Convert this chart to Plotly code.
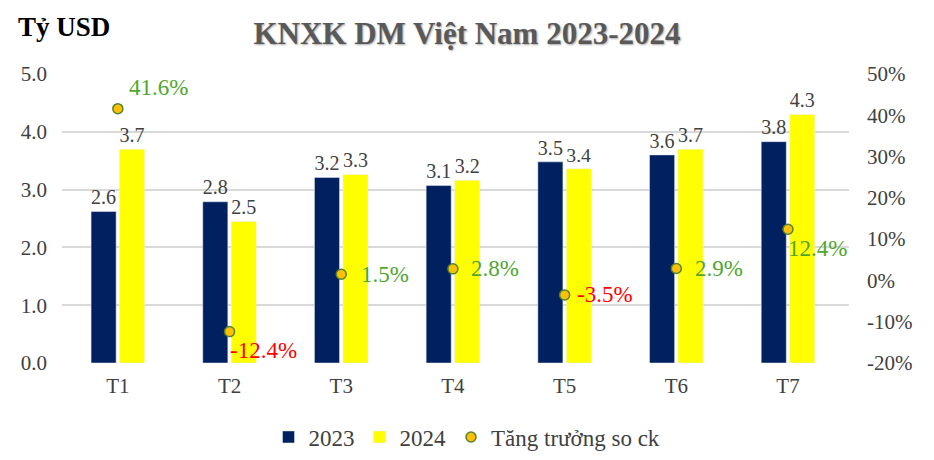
import plotly.graph_objects as go

months = ["T1", "T2", "T3", "T4", "T5", "T6", "T7"]
val_2023 = [2.62, 2.79, 3.21, 3.07, 3.48, 3.60, 3.83]
val_2024 = [3.70, 2.45, 3.26, 3.16, 3.36, 3.70, 4.30]
growth = [41.6, -12.4, 1.5, 2.8, -3.5, 2.9, 12.4]
y2_tickvals = [-20, -10, 0, 10, 20, 30, 40, 50]
y2_ticktext = ["-20%", "-10%", "0%", "10%", "20%", "30%", "40%", "50%"]

# label offsets (pixels) for the growth labels, relative to each marker
lbl_dx = [9, -2, 18, 16, 10, 17, -2]
lbl_dy = [21, -19, 0, 0, 0, 0, -19]

FONT = "Liberation Serif, Times New Roman, serif"
GREEN = "#4EA72E"
RED = "#FF0000"
TXT = "#404040"

fig = go.Figure()
fig.add_trace(go.Bar(
    x=months, y=val_2023, name="2023", marker_color="#002060",
    text=[f"{v:.1f}" for v in val_2023], textposition="outside",
    textfont=dict(family=FONT, size=23, color=TXT), cliponaxis=False,
))
fig.add_trace(go.Bar(
    x=months, y=val_2024, name="2024", marker_color="#FFFF00",
    text=[f"{v:.1f}" for v in val_2024], textposition="outside",
    textfont=dict(family=FONT, size=23, color=TXT), cliponaxis=False,
))
fig.add_trace(go.Scatter(
    x=months, y=growth, name="Tăng trưởng so ck", yaxis="y2", mode="markers",
    marker=dict(size=10, color="#FFC000", line=dict(color="#548235", width=1.5)),
    cliponaxis=False,
))

annotations = []
for m, g, dx, dy in zip(months, growth, lbl_dx, lbl_dy):
    annotations.append(dict(
        x=m, y=g, xref="x", yref="y2", text=f"{g:.1f}%", showarrow=False,
        xanchor="left", yanchor="middle", xshift=dx, yshift=dy,
        font=dict(family=FONT, size=23, color=GREEN if g >= 0 else RED)))
annotations.append(dict(
    text="<b>Tỷ USD</b>", xref="paper", yref="paper",
    x=(16 - 62) / 787, xanchor="left", y=(363 - 27) / 289, yanchor="middle",
    showarrow=False, font=dict(family=FONT, size=27, color="black")))

fig.update_layout(
    width=934, height=460,
    margin=dict(l=62, r=85, t=74, b=97, autoexpand=False),
    paper_bgcolor="white", plot_bgcolor="white",
    font=dict(family=FONT, size=21, color=TXT),
    barmode="group", bargap=0.49, bargroupgap=0.12,
    title=dict(text="<b>KNXK DM Việt Nam 2023-2024</b>", x=0.5, xanchor="center",
               y=1 - 33 / 460, yanchor="middle",
               font=dict(family=FONT, size=31, color="#595959",
                         shadow="1px 1px 2px #aaaaaa")),
    xaxis=dict(showgrid=False, showline=False, ticks="", ticklabelstandoff=8,
               tickfont=dict(family=FONT, size=21)),
    yaxis=dict(range=[0, 5], dtick=1, tickformat=".1f", showgrid=True,
               gridcolor="#D9D9D9", gridwidth=1.5, zeroline=False,
               tickfont=dict(family=FONT, size=21), ticks="", ticklabelstandoff=14),
    yaxis2=dict(range=[-20, 50], tickvals=y2_tickvals, ticktext=y2_ticktext,
                overlaying="y", side="right", showgrid=False, zeroline=False,
                ticks="", ticklabelstandoff=17,
                tickfont=dict(family=FONT, size=21)),
    legend=dict(orientation="h", x=0.5, xanchor="center", xref="container",
                y=0.05, yanchor="middle", yref="container",
                font=dict(family=FONT, size=23, color=TXT), itemwidth=30,
                traceorder="normal"),
    annotations=annotations,
)

fig.write_html("out.html", config={"displayModeBar": False},
               post_script="document.body.style.margin='0';")
